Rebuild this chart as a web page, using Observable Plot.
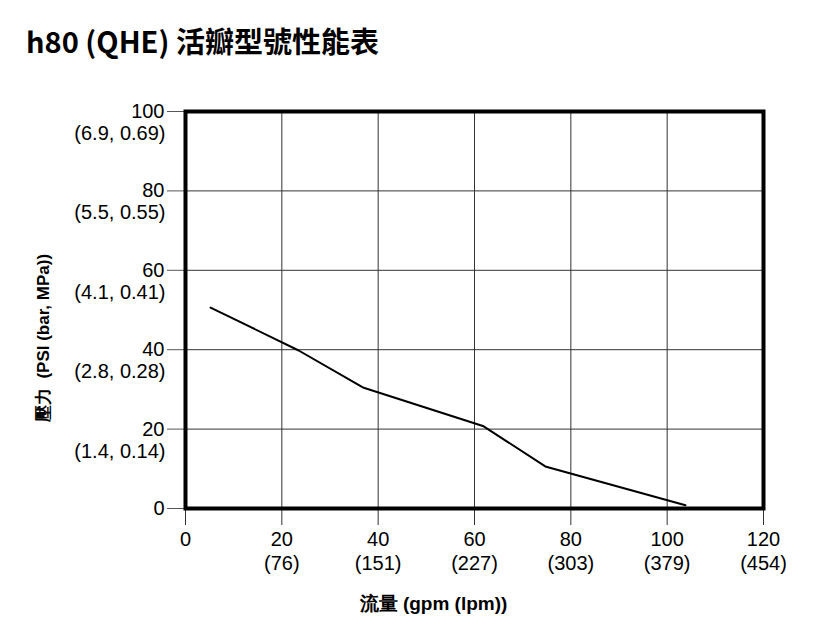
<!DOCTYPE html>
<html>
<head>
<meta charset="utf-8">
<script src="https://cdn.jsdelivr.net/npm/d3@7"></script>
<script src="https://cdn.jsdelivr.net/npm/@observablehq/plot@0.6"></script>
<style>
  body { margin: 0; background: #fff; width: 818px; height: 632px; overflow: hidden; }
  #title { height: 80px; box-sizing: border-box; padding: 21px 0 0 26px; font-family: "Noto Sans CJK TC", "Noto Sans", sans-serif; font-weight: 700; font-size: 29px; line-height: 38px; color: #000; }
  svg { display: block; }
</style>
</head>
<body>
<div id="title">h80 (QHE) 活瓣型號性能表</div>
<div id="chart"></div>
<script>
const flowGpm = [5.2, 23.5, 37, 61.9, 74.7, 103.8];
const pressurePsi = [50.6, 39.8, 30.4, 20.7, 10.6, 0.8];

const xTicks = [0, 20, 40, 60, 80, 100, 120];
const xTickSub = ["", "(76)", "(151)", "(227)", "(303)", "(379)", "(454)"];
const yTicks = [0, 20, 40, 60, 80, 100];
const yTickSub = ["", "(1.4, 0.14)", "(2.8, 0.28)", "(4.1, 0.41)", "(5.5, 0.55)", "(6.9, 0.69)"];

const yLabel = "壓力  (PSI (bar, MPa))";
const xLabel = "流量 (gpm (lpm))";

const data = flowGpm.map((x, i) => ({x, y: pressurePsi[i]}));
const font = "'Liberation Sans', Arial, Helvetica, sans-serif";

const chart = Plot.plot({
  width: 818,
  height: 552,
  marginLeft: 185,
  marginRight: 55,
  marginTop: 31,
  marginBottom: 124,
  style: {fontFamily: font, fontSize: "20px", color: "#000", background: "#fff"},
  x: {domain: [0, 120]},
  y: {domain: [0, 100]},
  marks: [
    Plot.gridX(xTicks, {stroke: "#333", strokeOpacity: 1, strokeWidth: 1}),
    Plot.gridY(yTicks, {stroke: "#333", strokeOpacity: 1, strokeWidth: 1}),
    Plot.axisX({ticks: xTicks, tickSize: 17, tickPadding: 6, tickFormat: d => String(d), label: null, fontSize: 20, stroke: "#333"}),
    Plot.axisX({ticks: xTicks, tickSize: 0, tickPadding: 47, tickFormat: d => xTickSub[xTicks.indexOf(d)], label: null, fontSize: 20}),
    Plot.axisY({ticks: yTicks, tickSize: 18, tickPadding: 3, tickFormat: d => String(d), label: null, fontSize: 20, stroke: "#555"}),
    Plot.axisY({ticks: yTicks, tickSize: 0, tickPadding: 20, dy: 22, tickFormat: d => yTickSub[yTicks.indexOf(d)], label: null, fontSize: 20}),
    Plot.line(data, {x: "x", y: "y", stroke: "#000", strokeWidth: 2}),
    Plot.frame({stroke: "#000", strokeWidth: 4}),
    Plot.text([yLabel], {frameAnchor: "left", textAnchor: "middle", dx: -142, dy: 28, rotate: -90, text: d => d, fontWeight: "bold", fontSize: 17, fill: "#000"}),
    Plot.text([xLabel], {frameAnchor: "bottom", textAnchor: "middle", lineAnchor: "middle", dx: -41, dy: 95, text: d => d, fontWeight: "bold", fontSize: 19, fill: "#000"})
  ]
});
document.getElementById("chart").appendChild(chart);
</script>
</body>
</html>
